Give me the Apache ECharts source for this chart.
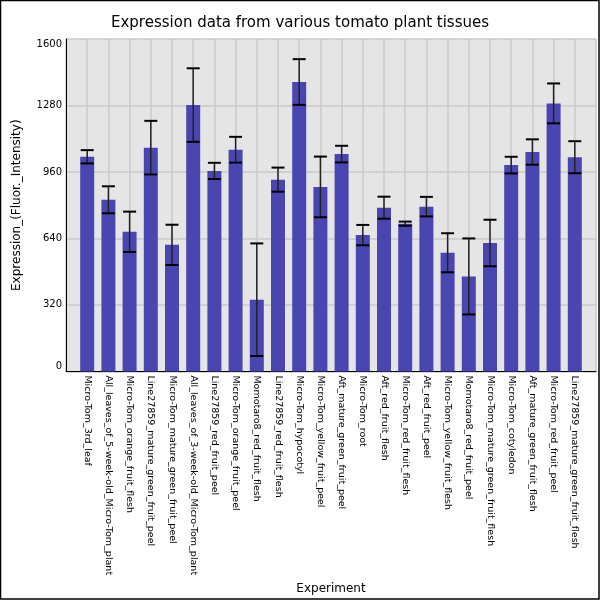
<!DOCTYPE html>
<html>

<head>
    <meta charset="utf-8">
    <title>Expression data from various tomato plant tissues</title>
    <script src="https://cdn.jsdelivr.net/npm/echarts@6/dist/echarts.min.js"></script>
    <style>
        body { margin: 0; background: #fff; }
    </style>
</head>

<body>
    <div id="main" style="width: 600px;height:600px;"></div>
    <script type="text/javascript">
        // tissues, in the order they are drawn
        var tissues = [
            'Micro-Tom_3rd_leaf',
            'All_leaves_of_5-week-old_Micro-Tom_plant',
            'Micro-Tom_orange_fruit_flesh',
            'Line27859_mature_green_fruit_peel',
            'Micro-Tom_mature_green_fruit_peel',
            'All_leaves_of_3-week-old_Micro-Tom_plant',
            'Line27859_red_fruit_peel',
            'Micro-Tom_orange_fruit_peel',
            'Momotaro8_red_fruit_flesh',
            'Line27859_red_fruit_flesh',
            'Micro-Tom_hypocotyl',
            'Micro-Tom_yellow_fruit_peel',
            'Aft_mature_green_fruit_peel',
            'Micro-Tom_root',
            'Aft_red_fruit_flesh',
            'Micro-Tom_red_fruit_flesh',
            'Aft_red_fruit_peel',
            'Micro-Tom_yellow_fruit_flesh',
            'Momotaro8_red_fruit_peel',
            'Micro-Tom_mature_green_fruit_flesh',
            'Micro-Tom_cotyledon',
            'Aft_mature_green_fruit_flesh',
            'Micro-Tom_red_fruit_peel',
            'Line27859_mature_green_fruit_flesh'
        ];
        var expression = [1033, 826, 672, 1077, 609, 1282, 965, 1067, 345, 923,
            1393, 888, 1046, 656, 788, 711, 793, 571, 457, 618,
            993, 1056, 1290, 1031];
        var errors = [32, 65, 97, 129, 97, 177, 39, 62, 271, 58,
            110, 146, 40, 49, 53, 10, 47, 94, 183, 112,
            40, 61, 96, 77];
        var yTicks = [0, 320, 640, 960, 1280, 1600];

        var myChart = echarts.init(document.getElementById('main'));

        var barData = [];
        var errData = [];
        for (var i = 0; i < tissues.length; i++) {
            barData.push([i, expression[i]]);
            errData.push([i, expression[i] - errors[i], expression[i] + errors[i]]);
        }

        var font = 'DejaVu Sans';

        option = {
            backgroundColor: '#fff',
            animation: false,
            title: {
                text: 'Expression data from various tomato plant tissues',
                left: 'center',
                top: 11,
                textStyle: { fontFamily: font, fontSize: 15, fontWeight: 'normal', color: '#000' }
            },
            graphic: [{
                type: 'rect',
                shape: { x: 0.5, y: 0.5, width: 598.5, height: 598.5 },
                style: { fill: 'none', stroke: '#000', lineWidth: 1.5 },
                z: 100
            }],
            grid: {
                left: 66,
                right: 4,
                top: 39,
                bottom: 227,
                show: true,
                backgroundColor: '#e5e5e5',
                borderWidth: 0
            },
            xAxis: {
                type: 'value',
                min: -1,
                max: tissues.length,
                interval: 1,
                name: 'Experiment',
                nameLocation: 'middle',
                nameGap: 205,
                nameTextStyle: { fontFamily: font, fontSize: 12, color: '#000' },
                axisLine: { show: true, onZero: false, lineStyle: { color: '#000', width: 1 } },
                axisTick: { show: false },
                splitLine: { show: true, lineStyle: { color: '#c8c8c8', width: 1.5 } },
                axisLabel: {
                    rotate: -90,
                    margin: 4,
                    fontFamily: font,
                    fontSize: 9.5,
                    color: '#000',
                    showMinLabel: false,
                    showMaxLabel: false,
                    formatter: function (v) {
                        return tissues[v] || '';
                    }
                }
            },
            yAxis: {
                type: 'value',
                min: yTicks[0],
                max: yTicks[yTicks.length - 1],
                interval: yTicks[1] - yTicks[0],
                name: 'Expression_(Fluor._Intensity)',
                nameLocation: 'middle',
                nameGap: 43,
                nameTextStyle: { fontFamily: font, fontSize: 12, color: '#000' },
                axisLine: { show: true, onZero: false, lineStyle: { color: '#000', width: 1 } },
                axisTick: { show: false },
                splitLine: { show: true, lineStyle: { color: '#c8c8c8', width: 1.5 } },
                axisLabel: {
                    margin: 4,
                    fontFamily: font,
                    fontSize: 10,
                    color: '#000',
                    formatter: function (v) { return String(v); },
                    verticalAlignMinLabel: 'bottom',
                    verticalAlignMaxLabel: 'top'
                }
            },
            series: [{
                type: 'bar',
                data: barData,
                barWidth: 14,
                itemStyle: { color: '#4a46b1' },
                z: 2
            }, {
                type: 'custom',
                data: errData,
                z: 3,
                renderItem: function (params, api) {
                    var x = api.value(0);
                    var lo = api.coord([x, api.value(1)]);
                    var hi = api.coord([x, api.value(2)]);
                    var half = 6.5;
                    return {
                        type: 'group',
                        children: [{
                            type: 'line',
                            shape: { x1: lo[0], y1: lo[1], x2: hi[0], y2: hi[1] },
                            style: { stroke: '#222', lineWidth: 1.5 }
                        }, {
                            type: 'line',
                            shape: { x1: lo[0] - half, y1: lo[1], x2: lo[0] + half, y2: lo[1] },
                            style: { stroke: '#000', lineWidth: 2 }
                        }, {
                            type: 'line',
                            shape: { x1: hi[0] - half, y1: hi[1], x2: hi[0] + half, y2: hi[1] },
                            style: { stroke: '#000', lineWidth: 2 }
                        }]
                    };
                }
            }]
        };

        myChart.setOption(option);
    </script>
</body>

</html>
